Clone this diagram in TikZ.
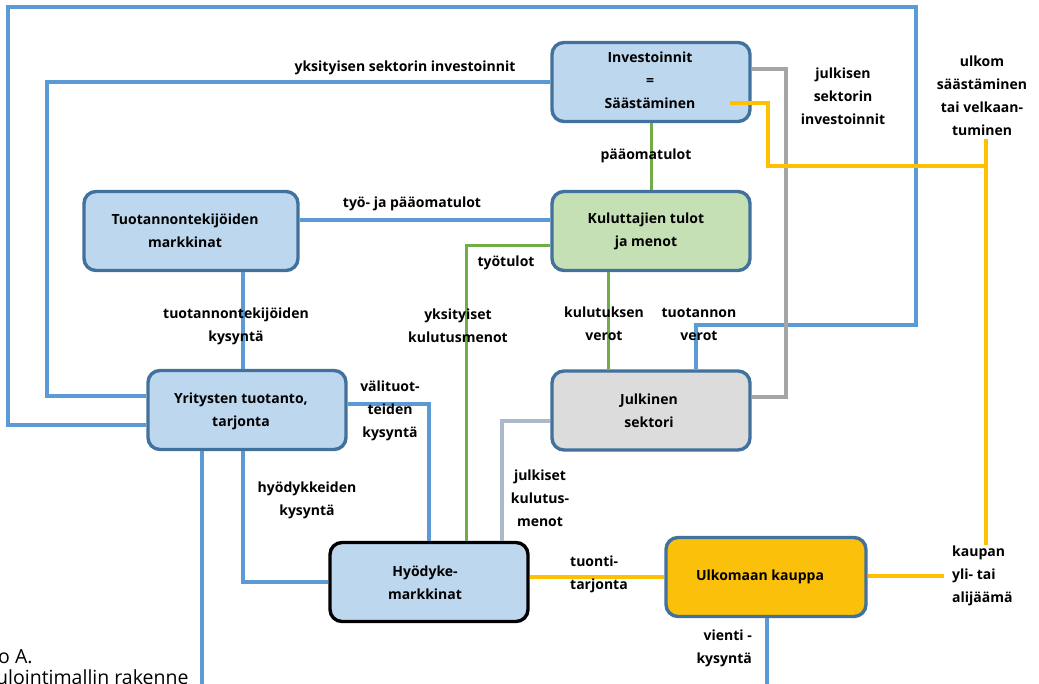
\documentclass[tikz,border=0pt]{standalone}
\usepackage{fontspec}
\setmainfont{Open Sans}
\definecolor{bxblue}{HTML}{BDD7EE}
\definecolor{bxgreen}{HTML}{C5E0B4}
\definecolor{bxgray}{HTML}{DCDCDC}
\definecolor{bxorange}{HTML}{FAC00A}
\definecolor{bxborder}{HTML}{41719C}
\definecolor{lnblue}{HTML}{5B9BD5}
\definecolor{lngreen}{HTML}{70AD47}
\definecolor{lngray}{HTML}{A5A5A5}
\definecolor{lngrayblue}{HTML}{ADB9CA}
\definecolor{lnyellow}{HTML}{FFC000}
\begin{document}
\begin{tikzpicture}[x=1pt,y=-1pt,
  box/.style={draw=bxborder, line width=3.4pt, rounded corners=12pt, inner sep=0pt, minimum width=198pt, minimum height=79pt},
  txt/.style={font=\fontsize{14}{23}\selectfont\bfseries, align=center, inner sep=0pt, text=black},
  lbl/.style={font=\fontsize{14}{23}\selectfont\bfseries, align=center, inner sep=0pt, text=black},
  bl/.style={draw=lnblue, line width=3.2pt},
  gr/.style={draw=lngreen, line width=3pt},
  gy/.style={draw=lngray, line width=3.2pt},
  gb/.style={draw=lngrayblue, line width=3.2pt},
  yl/.style={draw=lnyellow, line width=3.2pt}]
\useasboundingbox (0,0) rectangle (1039,684);
\fill[white] (0,0) rectangle (1039,684);
% boxes
\node[box, fill=bxblue] (inv) at (651,82) {};
\node[box, fill=bxblue, minimum width=214pt] (tuo) at (191,231) {};
\node[box, fill=bxgreen] (kul) at (651,231) {};
\node[box, fill=bxblue] (yri) at (247,410) {};
\node[box, fill=bxgray] (jul) at (651,410.5) {};
\node[box, fill=bxblue, draw=black] (hyo) at (429,582) {};
\node[box, fill=bxorange, minimum width=200pt] (ulk) at (766,577) {};
% box texts
\node[txt] (invt) at (650,80) {Investoinnit\\=\\Säästäminen};
\node[txt] (tuot) at (185,231) {Tuotannontekijöiden\\markkinat};
\node[txt] (kult) at (646,231) {Kuluttajien tulot\\ja menot};
\node[txt] (yrit) at (241,411) {Yritysten tuotanto,\\tarjonta};
\node[txt] (jult) at (649,411) {Julkinen\\sektori};
\node[txt] (hyot) at (425,583) {Hyödyke-\\markkinat};
\node[txt] (ulkt) at (760,577) {Ulkomaan kauppa};
% coordinates
\coordinate (bot1) at (202,684);
\coordinate (bot2) at (767,684);
\coordinate (ys) at (730,103);
\coordinate (yj) at (986,166);
\coordinate (ytop) at (986,139);
\coordinate (ybot) at (986,545);
\coordinate (yr) at (944,576);
% blue connectors
\draw[bl] (yri.west |- 0,425) -- (8,425) -- (8,7) -- (916,7) -- (916,325) -- (696,325) -- (jul.north -| 696,0);
\draw[bl] (inv.west |- 0,82) -- (47,82) -- (47,396) -- (yri.west |- 0,396);
\draw[bl] (tuo.east |- 0,220) -- (kul.west |- 0,220);
\draw[bl] (tuo.south -| 243,0) -- (yri.north -| 243,0);
\draw[bl] (yri.east |- 0,404) -- (429,404) -- (hyo.north -| 429,0);
\draw[bl] (yri.south -| 243,0) -- (243,582) -- (hyo.west |- 0,582);
\draw[bl] (yri.south -| 202,0) -- (bot1);
\draw[bl] (ulk.south -| 767,0) -- (bot2);
% green connectors
\draw[gr] (inv.south -| 651,0) -- (kul.north -| 651,0);
\draw[gr] (kul.west |- 0,246) -- (466,246) -- (hyo.north -| 466,0);
\draw[gr] (kul.south -| 608,0) -- (jul.north -| 608,0);
% gray connectors
\draw[gy] (inv.east |- 0,69) -- (786,69) -- (786,397) -- (jul.east |- 0,397);
\draw[gb] (jul.west |- 0,421) -- (502,421) -- (hyo.north -| 502,0);
% yellow connectors
\draw[yl] (ys) -- (768,103) -- (768,166) -- (yj);
\draw[yl] (ytop) -- (ybot);
\draw[yl] (hyo.east |- 0,577) -- (ulk.west |- 0,577);
\draw[yl] (ulk.east |- 0,576) -- (yr);
% labels
\node[lbl] (l1) at (405,68) {yksityisen sektorin investoinnit};
\node[lbl] (l2) at (412,204) {työ- ja pääomatulot};
\node[lbl] (l3) at (646,156) {pääomatulot};
\node[lbl] (l4) at (843,96) {julkisen\\sektorin\\investoinnit};
\node[lbl] (l5) at (982,96) {ulkom\\säästäminen\\tai velkaan-\\tuminen};
\node[lbl] (l6) at (506,263) {työtulot};
\node[lbl] (l7) at (236,326) {tuotannontekijöiden\\kysyntä};
\node[lbl] (l8) at (458,326) {yksityiset\\kulutusmenot};
\node[lbl] (l9) at (604,324) {kulutuksen\\verot};
\node[lbl] (l10) at (699,324) {tuotannon\\verot};
\node[lbl] (l11) at (390,411) {välituot-\\teiden\\kysyntä};
\node[lbl] (l12) at (307,500) {hyödykkeiden\\kysyntä};
\node[lbl] (l13) at (540,498) {julkiset\\kulutus-\\menot};
\node[lbl, align=left, anchor=west] (l14) at (570,574) {tuonti-\\tarjonta};
\node[lbl, align=left, anchor=west] (l15) at (952,576) {kaupan\\yli- tai\\alijäämä};
\node[lbl, align=right, anchor=east] (l16) at (752,648) {vienti -\\kysyntä};
% caption fragment
\node[anchor=base west, inner sep=0pt, font=\fontsize{19.5}{22}\selectfont] (c1) at (-2,663) {o A.};
\node[anchor=base west, inner sep=0pt, font=\fontsize{19.5}{22}\selectfont] (c2) at (-4,684) {ulointimallin rakenne};
\end{tikzpicture}
\end{document}
